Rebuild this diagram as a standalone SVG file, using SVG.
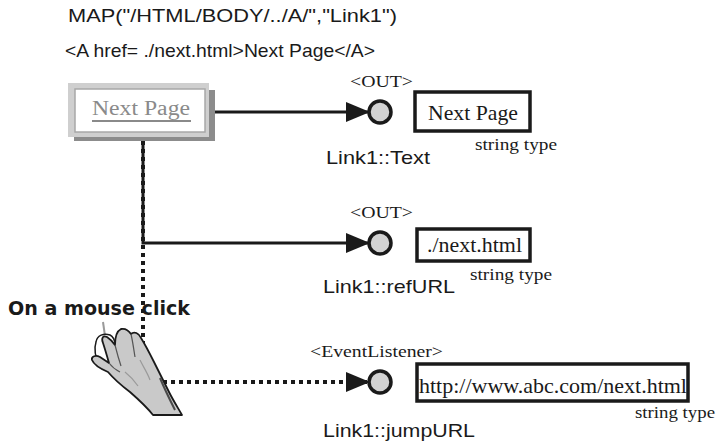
<svg xmlns="http://www.w3.org/2000/svg" width="717" height="444" viewBox="0 0 717 444">
  <style>
    .sans { font-family: "Liberation Sans", Arial, sans-serif; fill: #1a1a1a; }
    .serif { font-family: "Liberation Serif", "Times New Roman", serif; fill: #1a1a1a; }
    .bold { font-family: "DejaVu Sans", Verdana, sans-serif; font-weight: bold; fill: #1a1a1a; }
    .wire { stroke: #1a1a1a; stroke-width: 3; fill: none; }
    .dots { stroke: #1a1a1a; stroke-width: 4; fill: none; stroke-dasharray: 4 4; }
    .port { fill: #d2d2d2; stroke: #1a1a1a; stroke-width: 3.5; }
    .value { fill: #ffffff; stroke: #1a1a1a; stroke-width: 3.5; }
    .crease { stroke: #555555; stroke-width: 1.2; fill: none; }
    .shade { stroke: #9a9a9a; stroke-width: 1.2; fill: none; }
  </style>
  <defs>
    <marker id="tri" viewBox="0 0 24 20" refX="24" refY="10" markerWidth="24" markerHeight="20" markerUnits="userSpaceOnUse" orient="auto">
      <path d="M0,0 L24,10 L0,20 Z" fill="#1a1a1a"/>
    </marker>
  </defs>

  <rect width="717" height="444" fill="#ffffff"/>

  <!-- header lines -->
  <text class="sans" x="68" y="22" font-size="19" textLength="329" lengthAdjust="spacingAndGlyphs">MAP("/HTML/BODY/../A/","Link1")</text>
  <text class="sans" x="65" y="57" font-size="18.5" textLength="310" lengthAdjust="spacingAndGlyphs">&lt;A href= ./next.html&gt;Next Page&lt;/A&gt;</text>

  <!-- connectors -->
  <g id="connectors">
    <line class="dots" x1="143" y1="133" x2="143" y2="345"/>
    <line class="dots" x1="163" y1="382" x2="370" y2="382" marker-end="url(#tri)"/>
    <line class="wire" x1="207" y1="112" x2="370" y2="112" marker-end="url(#tri)"/>
    <polyline class="wire" points="143,133 143,243 370,243" marker-end="url(#tri)"/>
  </g>

  <!-- rendered link button -->
  <g id="link-button">
    <rect x="74" y="90" width="141" height="51" fill="#8c8c8c"/>
    <rect x="68" y="83" width="141" height="54" fill="#cfcfcf"/>
    <rect x="75" y="89" width="130" height="43" fill="#ffffff" stroke="#a8a8a8" stroke-width="1.5"/>
    <text class="serif" x="92" y="115" font-size="20" textLength="98" lengthAdjust="spacingAndGlyphs" style="fill:#8a8a8a">Next Page</text>
    <line x1="92" y1="121" x2="191" y2="121" stroke="#8a8a8a" stroke-width="2"/>
  </g>

  <!-- Link1::Text -->
  <g id="port-text">
    <text class="serif" x="350" y="87" font-size="17" textLength="63" lengthAdjust="spacingAndGlyphs">&lt;OUT&gt;</text>
    <circle class="port" cx="380" cy="112" r="11"/>
    <rect class="value" x="415" y="92" width="115" height="39"/>
    <text class="serif" x="428" y="120" font-size="21" textLength="90" lengthAdjust="spacingAndGlyphs">Next Page</text>
    <text class="serif" x="475" y="150" font-size="16" textLength="82" lengthAdjust="spacingAndGlyphs">string type</text>
    <text class="sans" x="326" y="164" font-size="19" textLength="104" lengthAdjust="spacingAndGlyphs">Link1::Text</text>
  </g>

  <!-- Link1::refURL -->
  <g id="port-refurl">
    <text class="serif" x="350" y="218" font-size="17" textLength="63" lengthAdjust="spacingAndGlyphs">&lt;OUT&gt;</text>
    <circle class="port" cx="380" cy="243" r="11"/>
    <rect class="value" x="417" y="229" width="113" height="32"/>
    <text class="serif" x="427" y="252" font-size="21" textLength="95" lengthAdjust="spacingAndGlyphs">./next.html</text>
    <text class="serif" x="470" y="280" font-size="16" textLength="82" lengthAdjust="spacingAndGlyphs">string type</text>
    <text class="sans" x="323" y="293" font-size="19" textLength="132" lengthAdjust="spacingAndGlyphs">Link1::refURL</text>
  </g>

  <!-- Link1::jumpURL -->
  <g id="port-jumpurl">
    <text class="serif" x="310" y="357" font-size="17" textLength="133" lengthAdjust="spacingAndGlyphs">&lt;EventListener&gt;</text>
    <circle class="port" cx="380" cy="382" r="11"/>
    <rect class="value" x="417" y="364" width="271" height="37"/>
    <text class="serif" x="419" y="393" font-size="21" textLength="268" lengthAdjust="spacingAndGlyphs">http://www.abc.com/next.html</text>
    <text class="serif" x="635" y="418" font-size="16" textLength="80" lengthAdjust="spacingAndGlyphs">string type</text>
    <text class="sans" x="323" y="437" font-size="19" textLength="152" lengthAdjust="spacingAndGlyphs">Link1::jumpURL</text>
  </g>

  <!-- mouse click hint -->
  <g id="mouse-click">
    <text class="bold" x="8" y="315" font-size="19" textLength="182" lengthAdjust="spacingAndGlyphs">On a mouse click</text>
    <!-- cord -->
    <path d="M103,322 L105,336" stroke="#9a9a9a" stroke-width="2" fill="none"/>
    <!-- mouse body -->
    <path d="M96,342 C97,335 104,333 110,335 C116,338 117,350 115,360 C113,367 104,369 99,364 C95,358 94,348 96,342 Z" fill="#ffffff" stroke="#1a1a1a" stroke-width="1.5"/>
    <!-- hand -->
    <path d="M153,415 C146,406 138,399 130,392 C122,386 114,379 108,372 C101,369 94,365 92,360 C91,356 96,355 100,357 C103,359 106,361 109,363 C107,356 105,349 103,343 C101,338 103,335 107,337 C110,339 113,342 115,345 C115,338 117,331 121,329 C126,328 129,331 131,334 C134,331 139,333 141,338 C146,346 150,354 154,362 C159,372 164,382 169,392 C173,400 178,408 182,415 Z" fill="#c9c9c9" stroke="#1a1a1a" stroke-width="1.8" stroke-linejoin="round"/>
    <!-- finger creases and shading -->
    <path class="crease" d="M115,345 C117,353 119,360 121,366"/>
    <path class="crease" d="M131,334 C133,343 134,351 135,357"/>
    <path class="crease" d="M109,363 C112,367 116,370 120,372"/>
    <path class="shade" d="M140,360 C144,368 148,374 150,380"/>
    <path class="shade" d="M125,372 C130,376 134,380 138,386"/>
    <path d="M160,378 C165,390 170,400 175,410" stroke="#4a4a4a" stroke-width="2" fill="none"/>
  </g>
</svg>
